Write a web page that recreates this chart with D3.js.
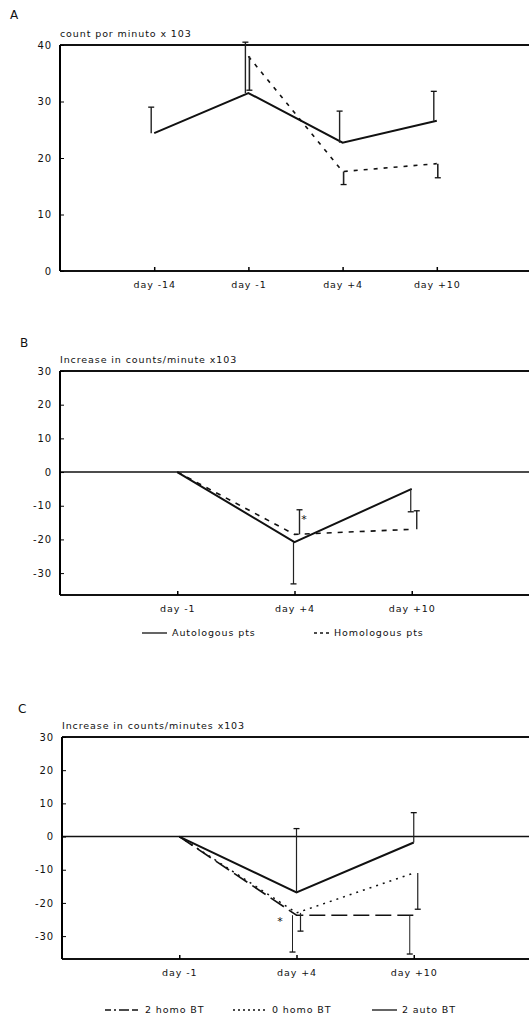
<!DOCTYPE html>
<html lang="en">
<head>
<meta charset="UTF-8">
<title>Counts per minute</title>
<script src="https://d3js.org/d3.v7.min.js"></script>
<style>
    body { margin: 0; background: #fff; }
    svg text { font-family: "DejaVu Sans", sans-serif; font-size: 9.5px; letter-spacing: 0.9px; fill: #111; }
    .letter { font-size: 12px; letter-spacing: 0; }
</style>
</head>
<body>
<svg width="529" height="1015"></svg>
<script>
// panel A
var daysA = ["day -14", "day -1", "day +4", "day +10"];
var autoA = [24.4, 31.5, 22.7, 26.6];
var autoErrA = [29, 40.5, 28.3, 31.8];
var homoA = [null, 38, 17.6, 19.0];
var homoErrA = [null, 32, 15.3, 16.5];
var ticksA = [0, 10, 20, 30, 40];

// panel B
var daysB = ["day -1", "day +4", "day +10"];
var autoB = [0, -20.8, -5];
var autoErrB = [null, -33.2, -11.8];
var homoB = [0, -18.5, -17];
var homoErrB = [null, -11.2, -11.5];
var ticksB = [-30, -20, -10, 0, 10, 20, 30];
var starB = [{day: "day +4", value: -13.5}];

// panel C
var daysC = ["day -1", "day +4", "day +10"];
var homo2C = [0, -23.7, -23.7];
var homo2ErrC = [null, -34.8, -35.4];
var homo0C = [0, -23, -11];
var homo0ErrC = [null, -28.5, -21.9];
var auto2C = [0, -16.8, -1.8];
var auto2ErrC = [null, 2.4, 7.2];
var ticksC = [-30, -20, -10, 0, 10, 20, 30];
var starC = [{day: "day +4", value: -25}];

var svg = d3.select("svg");

function panel(o) {
    var x = d3.scalePoint().domain(o.days).range([o.left, o.right]).padding(1);
    var y = d3.scaleLinear().domain(o.domain).range([o.bottom, o.top]);
    var g = svg.append("g");

    g.append("text").attr("class", "letter").attr("x", o.letterX).attr("y", o.letterY).text(o.letter);
    g.append("text").attr("x", o.left).attr("y", o.top - 8).text(o.title);

    // frame
    g.append("line").attr("x1", o.left).attr("x2", 529).attr("y1", o.top).attr("y2", o.top)
        .attr("stroke", "#111").attr("stroke-width", 2);
    g.append("line").attr("x1", o.left).attr("x2", 529).attr("y1", o.bottom).attr("y2", o.bottom)
        .attr("stroke", "#111").attr("stroke-width", 2);
    if (o.domain[0] < 0) {
        g.append("line").attr("x1", o.left).attr("x2", 529).attr("y1", y(0)).attr("y2", y(0))
            .attr("stroke", "#111").attr("stroke-width", 1.6);
    }

    var ya = g.append("g").attr("transform", "translate(" + o.left + ",0)")
        .call(d3.axisLeft(y).tickValues(o.ticks).tickSize(-4).tickPadding(8)
            .tickFormat(function(d) { return String(d).replace("\u2212", "-"); }));
    ya.select(".domain").attr("stroke-width", 2).attr("d", "M0," + o.top + "V" + o.bottom);
    ya.selectAll("text").style("font-size", "10px");

    var xa = g.append("g").attr("transform", "translate(0," + o.bottom + ")")
        .call(d3.axisBottom(x).tickSize(-4).tickPadding(10));
    xa.select(".domain").remove();
    xa.selectAll("line").attr("stroke-width", 1.5);
    xa.selectAll("text").style("font-size", "9.5px");

    o.series.forEach(function(s) {
        var pts = o.days.map(function(d, i) { return {d: d, v: s.values[i], e: s.err[i]}; });
        var line = d3.line().defined(function(p) { return p.v != null; })
            .x(function(p) { return x(p.d); }).y(function(p) { return y(p.v); });
        g.append("path").datum(pts).attr("d", line).attr("fill", "none")
            .attr("stroke", "#111").attr("stroke-width", s.width)
            .attr("stroke-dasharray", s.dash);
        pts.forEach(function(p) {
            if (p.e == null || p.v == null) return;
            var bx = x(p.d) + s.barShift;
            g.append("line").attr("x1", bx).attr("x2", bx).attr("y1", y(p.v)).attr("y2", y(p.e))
                .attr("stroke", "#222").attr("stroke-width", s.barWidth);
            g.append("line").attr("x1", bx - 3).attr("x2", bx + 3).attr("y1", y(p.e)).attr("y2", y(p.e))
                .attr("stroke", "#111").attr("stroke-width", 1.3);
        });
    });

    (o.stars || []).forEach(function(s) {
        g.append("text").attr("x", x(s.day) + o.starShift).attr("y", y(s.value) + 5)
            .attr("text-anchor", "middle").style("font-size", "11px").style("fill", "#111").text("*");
    });

    o.legend.forEach(function(l) {
        g.append("line").attr("x1", l.x1).attr("x2", l.x2).attr("y1", o.legendY).attr("y2", o.legendY)
            .attr("stroke", "#111").attr("stroke-width", 1.3).attr("stroke-dasharray", l.dash);
        g.append("text").attr("x", l.x2 + 5).attr("y", o.legendY + 3).text(l.label);
    });
}

panel({
    letter: "A", letterX: 10, letterY: 19,
    title: "count por minuto x 103",
    days: daysA, ticks: ticksA, domain: [0, 40],
    left: 60, right: 531, top: 45, bottom: 271,
    series: [
        {values: autoA, err: autoErrA, width: 2, dash: null, barShift: -3, barWidth: 1.4},
        {values: homoA, err: homoErrA, width: 1.6, dash: "4,6", barShift: 1, barWidth: 1.6}
    ],
    legend: []
});

panel({
    letter: "B", letterX: 20, letterY: 347,
    title: "Increase in counts/minute x103",
    days: daysB, ticks: ticksB, domain: [-36.5, 30],
    left: 60, right: 529, top: 371, bottom: 595,
    series: [
        {values: autoB, err: autoErrB, width: 2, dash: null, barShift: -1, barWidth: 1.2},
        {values: homoB, err: homoErrB, width: 1.6, dash: "5,6", barShift: 5, barWidth: 1.4}
    ],
    stars: starB, starShift: 10,
    legendY: 633,
    legend: [
        {x1: 142, x2: 167, dash: null, label: "Autologous pts"},
        {x1: 314, x2: 329, dash: "3,3", label: "Homologous pts"}
    ]
});

panel({
    letter: "C", letterX: 18, letterY: 713,
    title: "Increase in counts/minutes x103",
    days: daysC, ticks: ticksC, domain: [-36.9, 30],
    left: 62, right: 531, top: 737, bottom: 959,
    series: [
        {values: homo2C, err: homo2ErrC, width: 1.6, dash: "16,6", barShift: -4, barWidth: 1},
        {values: homo0C, err: homo0ErrC, width: 1.5, dash: "2,5", barShift: 4, barWidth: 1.2},
        {values: auto2C, err: auto2ErrC, width: 2, dash: null, barShift: 0, barWidth: 1.2}
    ],
    stars: starC, starShift: -16,
    legendY: 1010,
    legend: [
        {x1: 105, x2: 140, dash: "6,3,2,3,10,3", label: "2 homo BT"},
        {x1: 233, x2: 267, dash: "2,3", label: "0 homo BT"},
        {x1: 372, x2: 397, dash: null, label: "2 auto BT"}
    ]
});
</script>
</body>
</html>
